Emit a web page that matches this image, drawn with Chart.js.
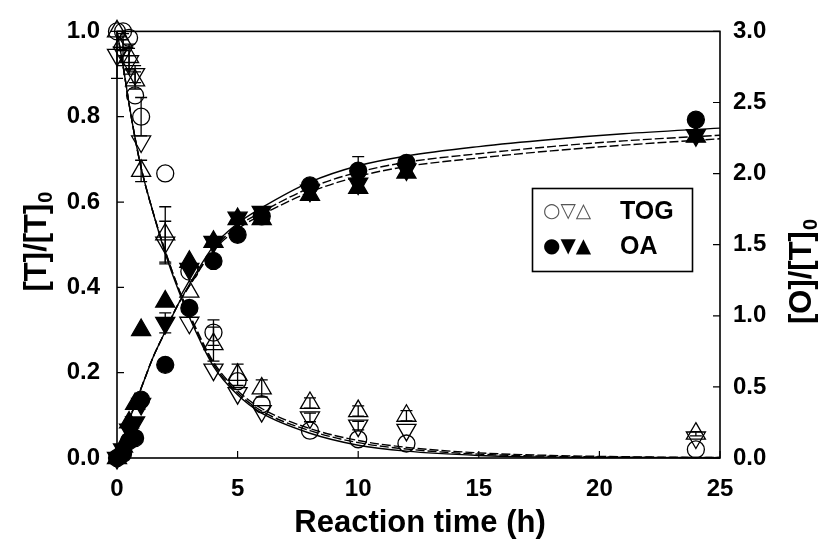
<!DOCTYPE html>
<html>
<head>
<meta charset="utf-8">
<script src="https://cdn.jsdelivr.net/npm/chart.js@4.4.1/dist/chart.umd.min.js"></script>
<style>
  html, body { margin: 0; padding: 0; background: #fff; }
  #wrap { width: 828px; height: 555px; position: relative; }
</style>
</head>
<body>
<div id="wrap"><canvas id="chart"></canvas></div>
<script>
// sampling times (h)
const times = [0, 0.25, 0.5, 0.75, 1, 2, 3, 4, 5, 6, 8, 10, 12, 24];

// TOG, left axis [T]/[T]0
const togCircle = [1.0, 1.0, 0.985, 0.85, 0.80, 0.667, 0.437, 0.294, 0.18, 0.126, 0.064, 0.044, 0.034, 0.02];
const togDown   = [0.945, 0.95, 0.93, 0.90, 0.742, 0.505, 0.317, 0.207, 0.152, 0.11, 0.095, 0.076, 0.066, 0.048];
const togUp     = [1.0, 0.975, 0.94, 0.885, 0.673, 0.524, 0.39, 0.267, 0.195, 0.163, 0.129, 0.11, 0.099, 0.057];

// OA, right axis [O]/[T]0
const oaCircle = [0, 0.03, 0.12, 0.14, 0.41, 0.655, 1.055, 1.386, 1.57, 1.70, 1.917, 2.02, 2.076, 2.379];
const oaDown   = [0, 0.06, 0.20, 0.25, 0.38, 0.95, 1.33, 1.52, 1.69, 1.73, 1.88, 1.93, 2.03, 2.27];
const oaUp     = [0, 0.08, 0.25, 0.38, 0.90, 1.10, 1.38, 1.52, 1.68, 1.68, 1.85, 1.90, 2.007, 2.26];

// standard deviations (0 = no bar)
const togCircleErr = [0, 0, 0, 0, 0.045, 0, 0, 0.03, 0, 0, 0, 0, 0, 0];
const togDownErr   = [0.055, 0.03, 0.03, 0.02, 0, 0.05, 0, 0, 0, 0, 0.01, 0.01, 0, 0];
const togUpErr     = [0, 0.02, 0.03, 0.02, 0.025, 0.065, 0, 0.04, 0.025, 0.02, 0.012, 0.012, 0.012, 0.005];
const oaCircleErr  = [0, 0, 0, 0, 0, 0, 0, 0, 0, 0, 0, 0.1, 0, 0];
const oaDownErr    = [0, 0, 0, 0, 0, 0.07, 0, 0, 0, 0, 0, 0, 0, 0];

// model curves
const fitT    = [0, 0.25, 0.5, 0.75, 1, 1.5, 2, 2.5, 3, 4, 5, 6, 8, 10, 12, 15, 18, 21, 25];
const togFitA = [1.0, 0.92, 0.83, 0.75, 0.68, 0.575, 0.48, 0.40, 0.33, 0.215, 0.148, 0.105, 0.058, 0.03, 0.016, 0.006, 0.002, 0.001, 0];
const togFitB = [1.0, 0.92, 0.83, 0.75, 0.68, 0.575, 0.485, 0.405, 0.335, 0.22, 0.153, 0.11, 0.064, 0.036, 0.021, 0.009, 0.004, 0.002, 0.001];
const togFitC = [1.0, 0.92, 0.83, 0.75, 0.68, 0.575, 0.485, 0.405, 0.338, 0.225, 0.158, 0.116, 0.069, 0.041, 0.025, 0.012, 0.006, 0.003, 0.001];
const oaFitA  = [0, 0.13, 0.26, 0.38, 0.49, 0.71, 0.89, 1.07, 1.22, 1.49, 1.65, 1.76, 1.94, 2.055, 2.124, 2.19, 2.24, 2.28, 2.32];
const oaFitB  = [0, 0.13, 0.26, 0.38, 0.49, 0.71, 0.89, 1.07, 1.21, 1.47, 1.63, 1.73, 1.90, 2.01, 2.08, 2.14, 2.19, 2.23, 2.27];
const oaFitC  = [0, 0.13, 0.26, 0.38, 0.49, 0.71, 0.89, 1.07, 1.21, 1.46, 1.61, 1.71, 1.87, 1.98, 2.05, 2.11, 2.16, 2.20, 2.245];

const FONT = '"Liberation Sans", Arial, sans-serif';

function pts(xs, ys) {
  return xs.map((x, i) => ({ x: x, y: ys[i] }));
}

function markers(label, values, axis, style, filled, rotation) {
  return {
    type: 'scatter',
    label: label,
    data: pts(times, values),
    yAxisID: axis,
    pointStyle: style,
    rotation: rotation || 0,
    pointRadius: style === 'circle' ? 8.5 : 11,
    pointBorderWidth: 1.3,
    pointBorderColor: '#000',
    pointBackgroundColor: filled ? '#000' : 'rgba(255,255,255,0)',
    showLine: false,
    clip: false,
    order: 0
  };
}

function curve(values, axis, dashed) {
  return {
    type: 'line',
    data: pts(fitT, values),
    yAxisID: axis,
    borderColor: '#000',
    borderWidth: 1.4,
    borderDash: dashed ? [9, 3] : [],
    pointRadius: 0,
    cubicInterpolationMode: 'monotone',
    fill: false,
    clip: false,
    order: 10
  };
}

const errorSets = [
  { values: togCircle, err: togCircleErr, axis: 'y' },
  { values: togDown, err: togDownErr, axis: 'y' },
  { values: togUp, err: togUpErr, axis: 'y' },
  { values: oaCircle, err: oaCircleErr, axis: 'y2' },
  { values: oaDown, err: oaDownErr, axis: 'y2' }
];

function subTitle(ctx, main, sub, x, y) {
  // rotated axis title with a subscript zero
  ctx.save();
  ctx.translate(x, y);
  ctx.rotate(-Math.PI / 2);
  ctx.font = 'bold 31px ' + FONT;
  const w1 = ctx.measureText(main).width;
  ctx.font = 'bold 20px ' + FONT;
  const w2 = ctx.measureText(sub).width;
  const start = -(w1 + w2) / 2;
  ctx.textAlign = 'left';
  ctx.textBaseline = 'alphabetic';
  ctx.fillStyle = '#000';
  ctx.font = 'bold 31px ' + FONT;
  ctx.fillText(main, start, 0);
  ctx.font = 'bold 20px ' + FONT;
  ctx.fillText(sub, start + w1 + 1, 6);
  ctx.restore();
}

const decorations = {
  id: 'decorations',
  beforeDatasetsDraw(chart) {
    const ctx = chart.ctx;
    const xs = chart.scales.x;
    ctx.save();
    ctx.strokeStyle = '#000';
    ctx.lineWidth = 1.3;
    errorSets.forEach(s => {
      const ys = chart.scales[s.axis];
      times.forEach((t, i) => {
        const e = s.err[i];
        if (!e) return;
        const px = xs.getPixelForValue(t);
        const top = ys.getPixelForValue(s.values[i] + e);
        const bot = ys.getPixelForValue(s.values[i] - e);
        ctx.beginPath();
        ctx.moveTo(px, top); ctx.lineTo(px, bot);
        ctx.moveTo(px - 6, top); ctx.lineTo(px + 6, top);
        ctx.moveTo(px - 6, bot); ctx.lineTo(px + 6, bot);
        ctx.stroke();
      });
    });
    ctx.restore();
  },
  afterDraw(chart) {
    const ctx = chart.ctx;
    const a = chart.chartArea;
    const xs = chart.scales.x, yl = chart.scales.y, yr = chart.scales.y2;
    ctx.save();
    ctx.strokeStyle = '#000';
    ctx.lineWidth = 1.6;
    ctx.strokeRect(a.left, a.top, a.right - a.left, a.bottom - a.top);

    // inward tick marks
    ctx.lineWidth = 1.2;
    ctx.beginPath();
    xs.ticks.forEach(t => {
      const p = xs.getPixelForValue(t.value);
      ctx.moveTo(p, a.bottom); ctx.lineTo(p, a.bottom - 7);
    });
    yl.ticks.forEach(t => {
      const p = yl.getPixelForValue(t.value);
      ctx.moveTo(a.left, p); ctx.lineTo(a.left + 7, p);
    });
    yr.ticks.forEach(t => {
      const p = yr.getPixelForValue(t.value);
      ctx.moveTo(a.right, p); ctx.lineTo(a.right - 7, p);
    });
    ctx.stroke();

    // axis titles
    ctx.fillStyle = '#000';
    ctx.font = 'bold 31px ' + FONT;
    ctx.textAlign = 'center';
    ctx.textBaseline = 'middle';
    ctx.fillText('Reaction time (h)', 420, 523);
    subTitle(ctx, '[T]/[T]', '0', 46, 242);
    subTitle(ctx, '[O]/[T]', '0', 811, 272);

    // legend
    ctx.lineWidth = 1.6;
    ctx.strokeRect(532.5, 188.5, 160, 83);
    ctx.textAlign = 'left';
    ctx.textBaseline = 'middle';
    ctx.fillStyle = '#555';
    ctx.font = '20px "DejaVu Sans", sans-serif';
    ctx.fillText('\u25CB\u25BD\u25B3', 543, 212);
    ctx.fillStyle = '#000';
    ctx.fillText('\u25CF\u25BC\u25B2', 543, 247);
    ctx.font = 'bold 25px ' + FONT;
    ctx.fillText('TOG', 620, 212);
    ctx.fillText('OA', 620, 247);
    ctx.restore();
  }
};

const tickFont = { family: FONT, size: 24, weight: 'bold' };

new Chart(document.getElementById('chart'), {
  data: {
    datasets: [
      markers('TOG circle', togCircle, 'y', 'circle', false),
      markers('TOG down', togDown, 'y', 'triangle', false, 180),
      markers('TOG up', togUp, 'y', 'triangle', false),
      markers('OA circle', oaCircle, 'y2', 'circle', true),
      markers('OA down', oaDown, 'y2', 'triangle', true, 180),
      markers('OA up', oaUp, 'y2', 'triangle', true),
      curve(togFitA, 'y', false),
      curve(togFitB, 'y', true),
      curve(togFitC, 'y', true),
      curve(oaFitA, 'y2', false),
      curve(oaFitB, 'y2', true),
      curve(oaFitC, 'y2', true)
    ]
  },
  options: {
    responsive: true,
    maintainAspectRatio: false,
    animation: false,
    events: [],
    layout: { padding: { top: 23, left: 0, right: 0, bottom: 0 } },
    plugins: {
      legend: { display: false },
      tooltip: { enabled: false }
    },
    scales: {
      x: {
        type: 'linear',
        min: 0, max: 25,
        grid: { display: false, drawTicks: false },
        border: { display: false },
        ticks: { stepSize: 5, color: '#000', font: tickFont, padding: 17, maxRotation: 0 },
        afterFit(scale) { scale.height = 97; }
      },
      y: {
        position: 'left',
        min: 0, max: 1,
        grid: { display: false, drawTicks: false },
        border: { display: false },
        ticks: { stepSize: 0.2, color: '#000', font: tickFont, padding: 17,
          callback: v => v.toFixed(1) },
        afterFit(scale) { scale.width = 117; }
      },
      y2: {
        position: 'right',
        min: 0, max: 3,
        grid: { display: false, drawTicks: false },
        border: { display: false },
        ticks: { stepSize: 0.5, color: '#000', font: tickFont, padding: 13,
          callback: v => v.toFixed(1) },
        afterFit(scale) { scale.width = 108; }
      }
    }
  },
  plugins: [decorations]
});
</script>
</body>
</html>
